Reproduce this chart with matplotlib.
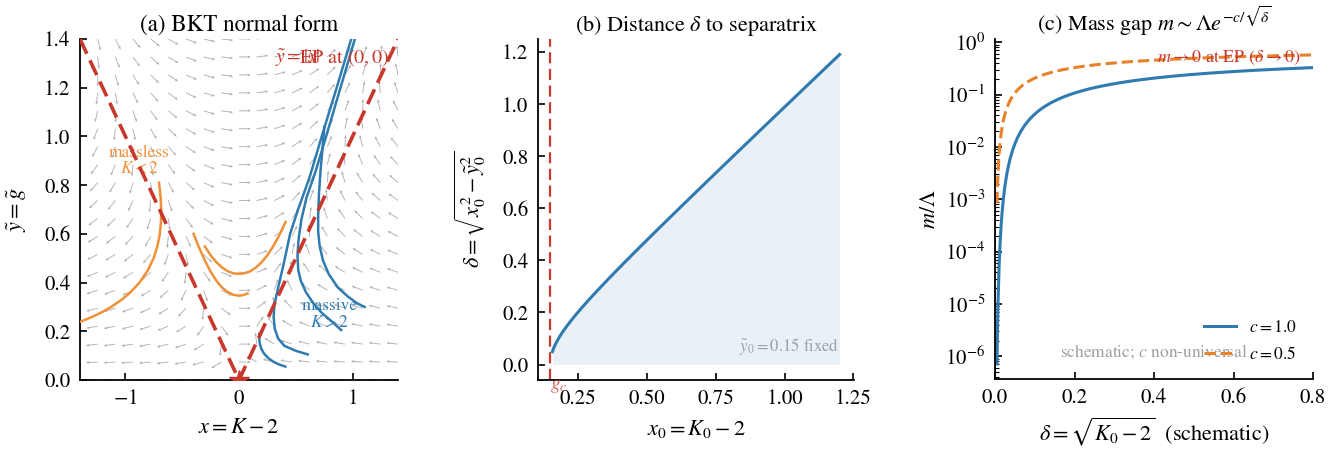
import numpy as np
import matplotlib
matplotlib.use("Agg")
import matplotlib.pyplot as plt
from matplotlib.transforms import blended_transform_factory

plt.rcParams.update({
    "font.family": "STIXGeneral",
    "mathtext.fontset": "stix",
    "font.size": 15,
    "axes.spines.top": False,
    "axes.spines.right": False,
    "xtick.direction": "in",
    "ytick.direction": "in",
    "axes.linewidth": 1.3,
})

BLUE = "#2f7bb0"
ORANGE = "#f0913a"
RED = "#c8382c"
GRAY = "#9aa0a6"

# ---- (a) flow trajectories in the (x, y~) plane ----
massless_x = [
    [-1.392, -1.289, -1.201, -1.126, -1.032, -0.956, -0.876, -0.803, -0.752, -0.718, -0.697,
     -0.687, -0.685, -0.690, -0.704],
    [-0.40, -0.35, -0.30, -0.25, -0.20, -0.15, -0.10, -0.05, 0.0, 0.04, 0.075],
    [-0.30, -0.25, -0.20, -0.15, -0.10, -0.05, 0.0, 0.05, 0.10, 0.15, 0.20, 0.25, 0.30, 0.35, 0.41],
]
massless_y = [
    [0.24, 0.26, 0.28, 0.30, 0.33, 0.36, 0.40, 0.45, 0.50, 0.55, 0.60, 0.65, 0.70, 0.75, 0.81],
    [0.600, 0.542, 0.490, 0.445, 0.408, 0.380, 0.361, 0.350, 0.346, 0.349, 0.355],
    [0.548, 0.512, 0.484, 0.462, 0.447, 0.438, 0.436, 0.438, 0.447, 0.462, 0.484, 0.512, 0.548,
     0.590, 0.649],
]
massive_x = [
    [0.179, 0.178, 0.183, 0.195, 0.218, 0.257, 0.303, 0.347, 0.408],
    [0.988, 0.86, 0.735, 0.62, 0.52, 0.45, 0.395, 0.345, 0.312, 0.305, 0.315, 0.345, 0.40, 0.50, 0.605],
    [1.02, 0.90, 0.78, 0.67, 0.595, 0.55, 0.525, 0.515, 0.522, 0.546, 0.59, 0.655, 0.73, 0.81, 0.90],
    [0.752, 0.735, 0.718, 0.705, 0.697, 0.697, 0.71, 0.74, 0.79, 0.87, 0.96, 1.04, 1.106],
]
massive_y = [
    [0.19, 0.17, 0.15, 0.13, 0.11, 0.09, 0.075, 0.065, 0.055],
    [1.40, 1.20, 1.01, 0.83, 0.70, 0.60, 0.48, 0.38, 0.31, 0.26, 0.21, 0.17, 0.14, 0.12, 0.105],
    [1.40, 1.21, 1.02, 0.85, 0.75, 0.66, 0.58, 0.51, 0.45, 0.405, 0.36, 0.315, 0.275, 0.243, 0.205],
    [1.04, 0.95, 0.86, 0.77, 0.68, 0.61, 0.55, 0.49, 0.435, 0.38, 0.342, 0.315, 0.30],
]
sep_x = [-1.4, 0.0, 1.4]

# ---- (b) distance to separatrix ----
y0_fixed = 0.15
x0_range = [y0_fixed, 1.2]

# ---- (c) mass gap ----
c_values = [1.0, 0.5]
c_styles = ["-", "--"]
c_colors = [BLUE, "#e8822a"]
delta_range = [0.005, 0.8]

fig = plt.figure(figsize=(13.36, 4.49), dpi=100)
ax_a = fig.add_axes([80 / 1336, 1 - 380 / 449, 318 / 1336, 341 / 449])
ax_b = fig.add_axes([538 / 1336, 1 - 380 / 449, 316 / 1336, 341 / 449])
ax_c = fig.add_axes([995 / 1336, 1 - 379 / 449, 318 / 1336, 340 / 449])

# (a) direction field of the flow, drawn as unit arrows
gx, gy = np.meshgrid(np.linspace(-1.4, 1.4, 19), np.linspace(0.0, 1.4, 20))
u = gy ** 2 - gx ** 2
v = gx * gy
n = np.hypot(u, v)
n[n == 0] = 1.0
ax_a.quiver(gx, gy, u / n, v / n, color="#b0b0b0", scale=27, width=0.0028,
            headwidth=3.2, headlength=3.6, headaxislength=3.2, zorder=1)

for xs, ys in zip(massless_x, massless_y):
    ax_a.plot(xs, ys, color=ORANGE, lw=1.8, zorder=3)
for xs, ys in zip(massive_x, massive_y):
    ax_a.plot(xs, ys, color=BLUE, lw=1.8, zorder=3)
ax_a.plot(sep_x, np.abs(sep_x), ls="--", color=RED, lw=2.6, dashes=(4.5, 2), zorder=4)
ax_a.plot([0], [0], marker="*", color=RED, ms=15, zorder=5)
ax_a.text(0.32, 1.322, r"$\tilde{y}=|x|$", color=RED, fontsize=14, va="center")
ax_a.text(1.325, 1.322, "EP at $(0,0)$", color=RED, fontsize=14.5, va="center", ha="right")
ax_a.text(-0.88, 0.9, "massless\n$K<2$", color=ORANGE, fontsize=12.5, ha="center", va="center",
          linespacing=1.0)
ax_a.text(0.80, 0.27, "massive\n$K>2$", color=BLUE, fontsize=12.5, ha="center", va="center",
          linespacing=1.0)
ax_a.set_xlim(-1.4, 1.4)
ax_a.set_ylim(0, 1.4)
ax_a.set_xticks([-1, 0, 1])
ax_a.set_xticklabels(["$-1$", "$0$", "$1$"])
ax_a.set_yticks(np.arange(0, 1.41, 0.2))
ax_a.set_xlabel(r"$x=K-2$", fontsize=16, labelpad=6)
ax_a.set_ylabel(r"$\tilde{y}=\tilde{g}$", fontsize=16, labelpad=11)
ax_a.set_title("(a) BKT normal form", fontsize=16.5)

# (b)
x0 = np.linspace(x0_range[0], x0_range[1], 400)
delta = np.sqrt(x0 ** 2 - y0_fixed ** 2)
ax_b.fill_between(x0[3:], 0, delta[3:], color=BLUE, alpha=0.1, lw=0)
ax_b.plot(x0[3:], delta[3:], color=BLUE, lw=2.2)
ax_b.axvline(y0_fixed, color=RED, ls="--", lw=1.6, dashes=(5, 2.5))
ax_b.text(y0_fixed, 0.005, r"$g_c$", color=RED, alpha=0.8, fontsize=14, ha="left", va="top",
          transform=blended_transform_factory(ax_b.transData, ax_b.transAxes), clip_on=False)
ax_b.text(1.2, 0.07, r"$\tilde{y}_0=0.15$ fixed", color=GRAY, fontsize=12, ha="right", va="center")
ax_b.set_xticks([0.25, 0.5, 0.75, 1.0, 1.25])
ax_b.set_yticks(np.arange(0, 1.21, 0.2))
ax_b.set_xlabel(r"$x_0=K_0-2$", fontsize=16, labelpad=6)
ax_b.set_ylabel(r"$\delta=\sqrt{x_0^2-\tilde{y}_0^2}$", fontsize=16, labelpad=10)
ax_b.set_title(r"(b) Distance $\delta$ to separatrix", fontsize=16)

# (c)
d = np.linspace(delta_range[0], delta_range[1], 600)
for c, ls, col in zip(c_values, c_styles, c_colors):
    ax_c.semilogy(d, np.exp(-c / np.sqrt(d)), ls=ls, color=col, lw=2.2, label=f"$c={c:.1f}$")
ax_c.axvline(0, color=RED, ls="--", lw=1.2)
ax_c.text(0.96, 0.945, r"$m\to0$ at EP $(\delta\to0)$", color=RED, fontsize=13,
          ha="right", va="center", transform=ax_c.transAxes)
ax_c.text(0.5, 0.08, r"schematic; $c$ non-universal", color=GRAY, fontsize=12.5,
          ha="center", va="center", transform=ax_c.transAxes)
ax_c.legend(loc="lower right", frameon=False, fontsize=12.5, handlelength=1.8, labelspacing=0.6)
ax_c.set_xlim(0, 0.8)
ax_c.set_ylim(3.7e-7, 1.15)
ax_c.set_xticks([0, 0.2, 0.4, 0.6, 0.8])
ax_c.set_xlabel(r"$\delta=\sqrt{K_0-2}$  (schematic)", fontsize=16, labelpad=5)
ax_c.set_ylabel(r"$m/\Lambda$", fontsize=16)
ax_c.set_title(r"(c) Mass gap $m\sim\Lambda e^{-c/\sqrt{\delta}}$", fontsize=16)

for ax in (ax_a, ax_b, ax_c):
    ax.tick_params(labelsize=15, length=5, width=1.2, pad=7)
    ax.tick_params(which="minor", length=3, width=0.8)

fig.savefig("out.png", dpi=100)
